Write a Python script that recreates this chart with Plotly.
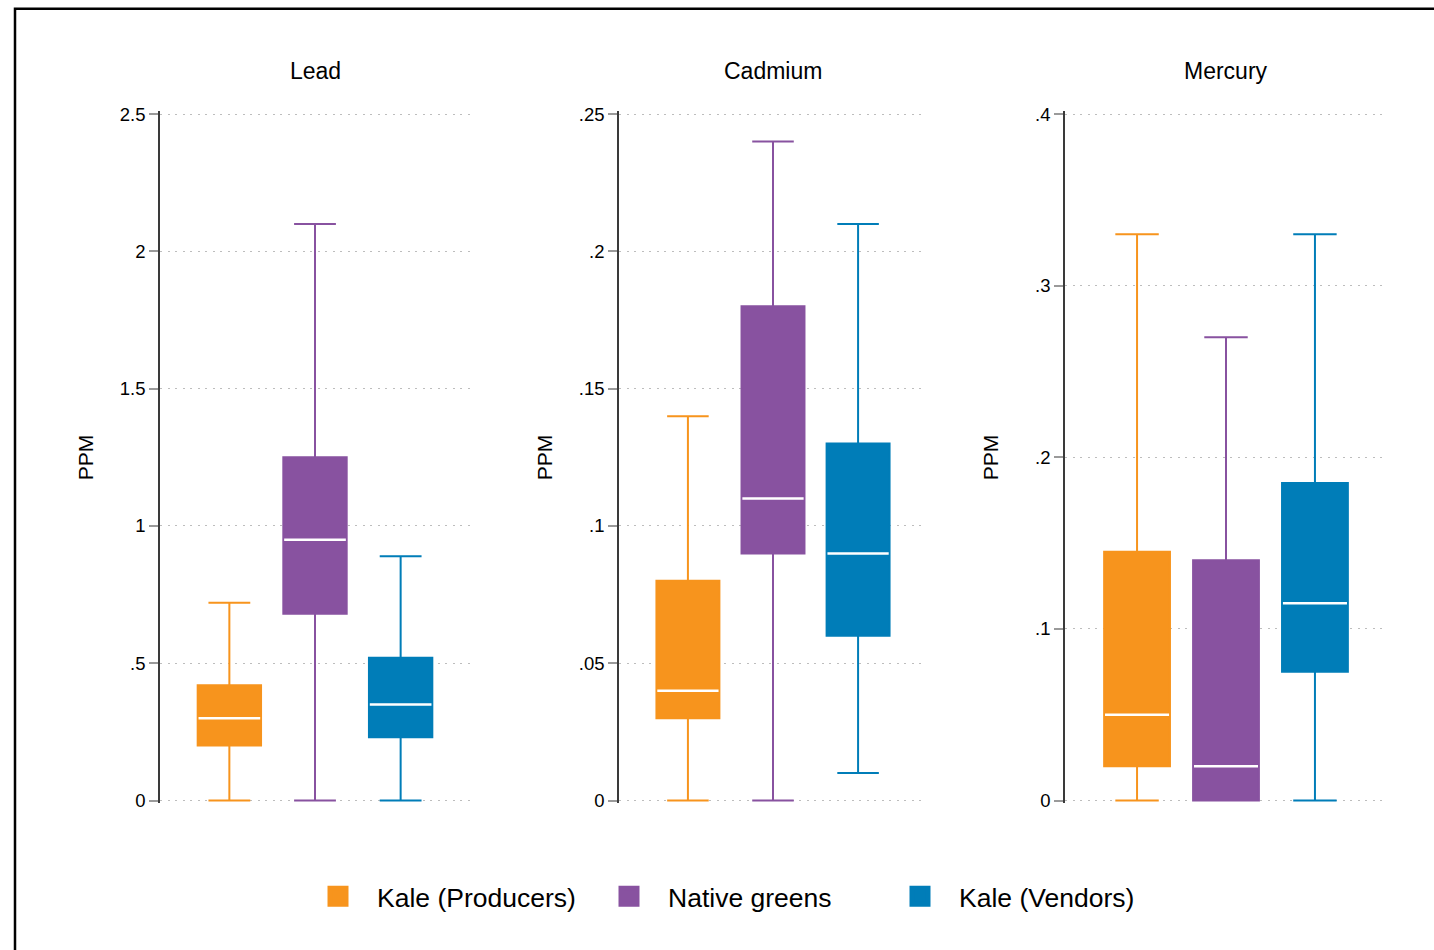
import plotly.graph_objects as go

W, H = 1434, 950

# ---------------- data ----------------
metals = ["Lead", "Cadmium", "Mercury"]
groups = ["Kale (Producers)", "Native greens", "Kale (Vendors)"]
colors = ["#F7941D", "#8852A0", "#007DB8"]

lead_low = [0.0, 0.0, 0.0]
lead_q1 = [0.20, 0.68, 0.23]
lead_med = [0.30, 0.95, 0.35]
lead_q3 = [0.42, 1.25, 0.52]
lead_high = [0.72, 2.10, 0.89]

cadmium_low = [0.0, 0.0, 0.01]
cadmium_q1 = [0.03, 0.09, 0.06]
cadmium_med = [0.04, 0.11, 0.09]
cadmium_q3 = [0.08, 0.18, 0.13]
cadmium_high = [0.14, 0.24, 0.21]

mercury_low = [0.0, 0.0, 0.0]
mercury_q1 = [0.02, 0.0, 0.075]
mercury_med = [0.05, 0.02, 0.115]
mercury_q3 = [0.145, 0.14, 0.185]
mercury_high = [0.33, 0.27, 0.33]

lead_ticks = [0, 0.5, 1, 1.5, 2, 2.5]
lead_ticktext = ["0", ".5", "1", "1.5", "2", "2.5"]
cadmium_ticks = [0, 0.05, 0.1, 0.15, 0.2, 0.25]
cadmium_ticktext = ["0", ".05", ".1", ".15", ".2", ".25"]
mercury_ticks = [0, 0.1, 0.2, 0.3, 0.4]
mercury_ticktext = ["0", ".1", ".2", ".3", ".4"]

stats = [
    (lead_low, lead_q1, lead_med, lead_q3, lead_high, lead_ticks, lead_ticktext),
    (cadmium_low, cadmium_q1, cadmium_med, cadmium_q3, cadmium_high, cadmium_ticks, cadmium_ticktext),
    (mercury_low, mercury_q1, mercury_med, mercury_q3, mercury_high, mercury_ticks, mercury_ticktext),
]

# ---------------- layout geometry (pixels) ----------------
def py(obs):
    """paper-y fraction for a target vertical pixel position"""
    return 1 - ((obs - 6.8) / 0.984) / H

panel_px = [(160, 470), (619, 927), (1065, 1387)]
y_top_px, y_bot_px = 113, 800
pad = 0.004
FONT = "Liberation Sans, Arial, sans-serif"

fig = go.Figure()
layout = dict(
    width=W, height=H,
    margin=dict(l=0, r=0, t=0, b=0),
    paper_bgcolor="white", plot_bgcolor="white",
    font=dict(family=FONT, color="black"),
    showlegend=True,
    boxmode="overlay",
)

annotations = []
for p, (low, q1, med, q3, high, ticks, ticktext) in enumerate(stats):
    ax = "" if p == 0 else str(p + 1)
    top = ticks[-1]
    span_px = y_bot_px - y_top_px
    x0, x1 = panel_px[p]
    layout["xaxis" + ax] = dict(
        domain=[x0 / W, x1 / W], range=[-0.81, 2.81],
        showgrid=False, zeroline=False, showline=False,
        showticklabels=False, ticks="", fixedrange=True,
    )
    layout["yaxis" + ax] = dict(
        domain=[py(y_bot_px + span_px * pad), py(y_top_px - span_px * pad)],
        range=[-top * pad, top * (1 + pad)],
        anchor="x" + ax,
        tickvals=ticks, ticktext=ticktext,
        tickfont=dict(size=18.5, family=FONT, color="black"),
        ticks="outside", ticklen=9, tickwidth=1.5, tickcolor="#9a9a9a",
        showline=True, linecolor="#3a3a3a", linewidth=1.5,
        showgrid=True, gridcolor="#bdbdbd", gridwidth=1, griddash="2px,5.5px",
        zeroline=False, fixedrange=True,
    )
    for g in range(3):
        fig.add_trace(go.Box(
            x=[g], q1=[q1[g]], median=[med[g]], q3=[q3[g]],
            lowerfence=[low[g]], upperfence=[high[g]],
            name=groups[g], legendgroup=groups[g], showlegend=False,
            fillcolor=colors[g], line=dict(color=colors[g], width=2),
            width=0.74, whiskerwidth=0.66,
            xaxis="x" + ax, yaxis="y" + ax, hoverinfo="y",
        ))
        # white median line drawn as a degenerate box at the median value
        fig.add_trace(go.Box(
            x=[g], q1=[med[g]], median=[med[g]], q3=[med[g]],
            lowerfence=[med[g]], upperfence=[med[g]],
            name=groups[g], legendgroup=groups[g], showlegend=False,
            fillcolor="rgba(255,255,255,0)", line=dict(color="white", width=2.5),
            width=0.72, whiskerwidth=0,
            xaxis="x" + ax, yaxis="y" + ax, hoverinfo="skip",
        ))
    xc = (x0 + x1) / 2 / W
    annotations.append(dict(
        text=metals[p], x=xc, y=py(70), xref="paper", yref="paper",
        xanchor="center", yanchor="middle", showarrow=False,
        font=dict(size=23, family=FONT, color="black"),
    ))
    annotations.append(dict(
        text="PPM", x=(x0 - 75) / W, y=py((y_top_px + y_bot_px) / 2),
        xref="paper", yref="paper", xanchor="center", yanchor="middle",
        textangle=-90, showarrow=False,
        font=dict(size=21, family=FONT, color="black"),
    ))

# legend entries (square swatches)
for g in range(3):
    fig.add_trace(go.Scatter(
        x=[None], y=[None], mode="markers", name=groups[g], legendgroup=groups[g],
        marker=dict(symbol="square", size=16, color=colors[g],
                    line=dict(color=colors[g], width=5)),
        showlegend=True, hoverinfo="skip",
    ))

layout["annotations"] = annotations
layout["legend"] = dict(
    orientation="h", x=299 / W, xanchor="left", y=py(896), yanchor="middle",
    font=dict(size=26.5, family=FONT, color="black"),
    itemwidth=68, entrywidth=208, entrywidthmode="pixels",
    bgcolor="rgba(0,0,0,0)",
)
layout["shapes"] = [dict(
    type="rect", xref="paper", yref="paper",
    x0=15 / W, x1=1.05, y0=-0.05, y1=py(7.5),
    line=dict(color="black", width=2.5), fillcolor="rgba(0,0,0,0)", layer="above",
)]

fig.update_layout(**layout)
fig.write_html("out.html")
